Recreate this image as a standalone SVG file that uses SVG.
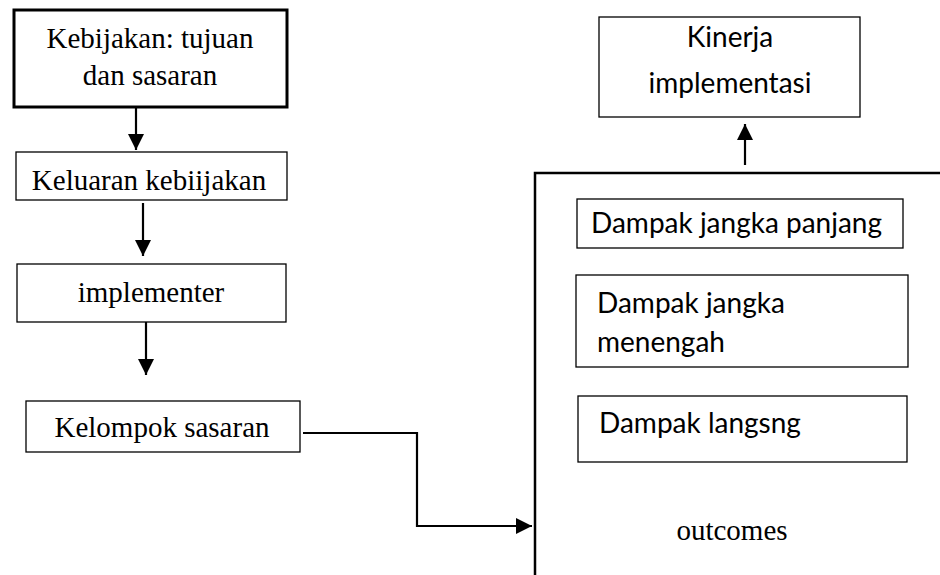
<svg xmlns="http://www.w3.org/2000/svg" width="940" height="575" viewBox="0 0 940 575">
<style>
.box{fill:#fff;stroke:#000;stroke-width:1.3}
.thick{fill:#fff;stroke:#000;stroke-width:3}
.serif{font-family:"Liberation Serif","Times New Roman",serif;font-size:29px;fill:#000}
.sans{font-family:Lato,"Open Sans",sans-serif;font-size:28px;fill:#000}
.conn{fill:none;stroke:#000;stroke-width:2.2}
</style>
<defs>
<marker id="ahb" markerWidth="16" markerHeight="16" refX="16" refY="8" orient="auto" markerUnits="userSpaceOnUse" viewBox="0 0 16 16">
<path d="M0,0 L16,8 L0,16 Z" fill="#000"/>
</marker>
</defs>
<g id="n-kebijakan">
<rect class="thick" x="14" y="10" width="273" height="97"/>
<text class="serif" x="150" y="48" text-anchor="middle">Kebijakan: tujuan</text>
<text class="serif" x="150" y="85" text-anchor="middle">dan sasaran</text>
</g>
<g id="n-keluaran">
<rect class="box" x="16" y="152" width="271" height="48"/>
<text class="serif" x="149" y="190" text-anchor="middle">Keluaran kebiijakan</text>
</g>
<g id="n-implementer">
<rect class="box" x="17" y="264" width="269" height="58"/>
<text class="serif" x="151" y="302" text-anchor="middle">implementer</text>
</g>
<g id="n-kelompok">
<rect class="box" x="26" y="401" width="274" height="51"/>
<text class="serif" x="162" y="437" text-anchor="middle">Kelompok sasaran</text>
</g>
<g id="n-kinerja">
<rect class="box" x="599" y="17" width="261" height="100"/>
<text class="sans" x="730" y="47" text-anchor="middle">Kinerja</text>
<text class="sans" x="730" y="93" text-anchor="middle">implementasi</text>
</g>
<g id="n-outcomes">
<path d="M535,575 L535,173 L940,173" fill="none" stroke="#000" stroke-width="2.5"/>
<text class="serif" x="732" y="540" text-anchor="middle">outcomes</text>
</g>
<g id="n-panjang">
<rect class="box" x="577" y="199" width="326" height="49"/>
<text class="sans" x="591" y="233">Dampak jangka panjang</text>
</g>
<g id="n-menengah">
<rect class="box" x="576" y="275" width="332" height="92"/>
<text class="sans" x="597" y="313">Dampak jangka</text>
<text class="sans" x="597" y="352">menengah</text>
</g>
<g id="n-langsung">
<rect class="box" x="578" y="396" width="329" height="66"/>
<text class="sans" x="599" y="433">Dampak langsng</text>
</g>
<g id="connectors">
<path class="conn" d="M136,107 L136,150" marker-end="url(#ahb)"/>
<path class="conn" d="M143,203 L143,256" marker-end="url(#ahb)"/>
<path class="conn" d="M146,322 L146,375" marker-end="url(#ahb)"/>
<path class="conn" d="M303,433 L417,433 L417,526 L532,526" marker-end="url(#ahb)"/>
<path class="conn" d="M745,165 L745,124" marker-end="url(#ahb)"/>
</g>
</svg>
